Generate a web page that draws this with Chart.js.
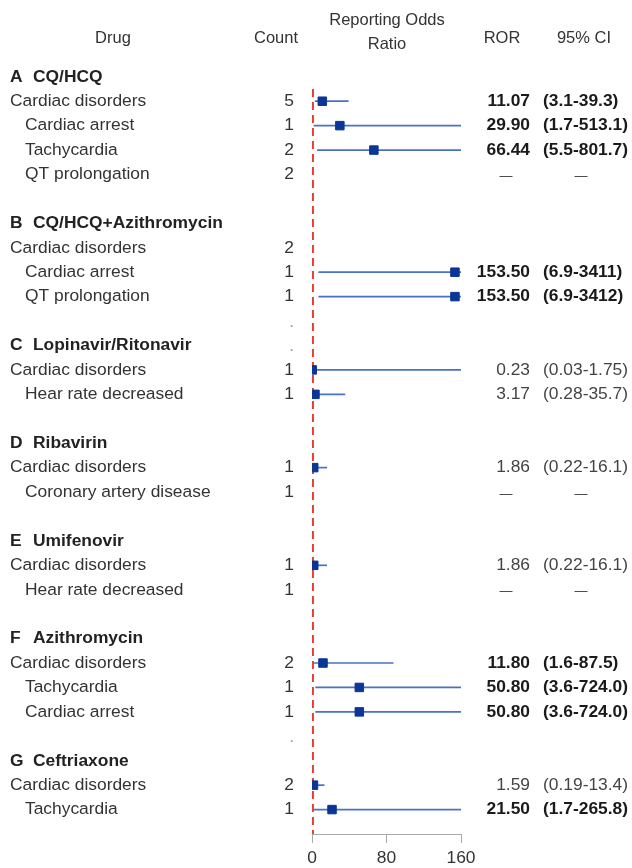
<!DOCTYPE html>
<html>
<head>
<meta charset="utf-8">
<script src="https://cdn.jsdelivr.net/npm/chart.js@4/dist/chart.umd.min.js"></script>
<style>
  body { margin: 0; background: #fff; }
  #wrap { width: 632px; height: 868px; }
</style>
</head>
<body>
<div id="wrap"><canvas id="forest" width="632" height="868"></canvas></div>
<script>
"use strict";

// one entry per row, top to bottom (row index = y value)
// kind: h = drug header, m = main row, s = sub row, b = blank
const rowKind = ['h','m','s','s','s','b','h','m','s','s','b','h','m','s','b','h','m','s','b','h','m','s','b','h','m','s','s','b','h','m','s'];
const headerLetters = { 0: 'A', 6: 'B', 11: 'C', 15: 'D', 19: 'E', 23: 'F', 28: 'G' };
const rowLabels = [
    'CQ/HCQ', 'Cardiac disorders', 'Cardiac arrest', 'Tachycardia', 'QT prolongation', '',
    'CQ/HCQ+Azithromycin', 'Cardiac disorders', 'Cardiac arrest', 'QT prolongation', '',
    'Lopinavir/Ritonavir', 'Cardiac disorders', 'Hear rate decreased', '',
    'Ribavirin', 'Cardiac disorders', 'Coronary artery disease', '',
    'Umifenovir', 'Cardiac disorders', 'Hear rate decreased', '',
    'Azithromycin', 'Cardiac disorders', 'Tachycardia', 'Cardiac arrest', '',
    'Ceftriaxone', 'Cardiac disorders', 'Tachycardia'
];
const counts = ['', '5', '1', '2', '2', '', '', '2', '1', '1', '.', '.', '1', '1', '', '', '1', '1', '', '', '1', '1', '', '', '2', '1', '1', '.', '', '2', '1'];

// point estimate and interval ends as drawn
const ror    = [null, 11.07, 29.90, 66.44, null, null, null, null, 153.5, 153.5, null, null, 0.23, 3.17, null, null, 1.86, null, null, null, 1.86, null, null, null, 11.80, 50.80, 50.80, null, null, 1.59, 21.50];
const ciLow  = [null, 3.1, 1.7, 5.5, null, null, null, null, 6.9, 6.9, null, null, 0.03, 0.28, null, null, 0.22, null, null, null, 0.22, null, null, null, 1.6, 3.6, 3.6, null, null, 0.19, 1.7];
const ciHigh = [null, 39.3, 513.1, 801.7, null, null, null, null, 3411, 3412, null, null, 160, 35.7, null, null, 16.1, null, null, null, 16.1, null, null, null, 87.5, 724.0, 724.0, null, null, 13.4, 265.8];

const rorText = ['', '11.07', '29.90', '66.44', '\u2014', '', '', '', '153.50', '153.50', '', '', '0.23', '3.17', '', '', '1.86', '\u2014', '', '', '1.86', '\u2014', '', '', '11.80', '50.80', '50.80', '', '', '1.59', '21.50'];
const ciText  = ['', '(3.1-39.3)', '(1.7-513.1)', '(5.5-801.7)', '\u2014', '', '', '', '(6.9-3411)', '(6.9-3412)', '', '', '(0.03-1.75)', '(0.28-35.7)', '', '', '(0.22-16.1)', '\u2014', '', '', '(0.22-16.1)', '\u2014', '', '', '(1.6-87.5)', '(3.6-724.0)', '(3.6-724.0)', '', '', '(0.19-13.4)', '(1.7-265.8)'];
const boldRows = [1, 2, 3, 8, 9, 24, 25, 26, 30];

const xTicks = [0, 80, 160];
const refValue = 1;

const FONT = '"Liberation Sans", Arial, sans-serif';

var pointData = [];
var ciSets = [];
ror.forEach(function (v, i) {
    if (v === null) return;
    pointData.push({ x: v, y: i });
    ciSets.push({
        data: [{ x: ciLow[i], y: i }, { x: ciHigh[i], y: i }],
        showLine: true,
        borderColor: '#4a72c4',
        borderWidth: 1.7,
        pointRadius: 0
    });
});

const textColumns = {
    id: 'textColumns',
    afterDraw: function (chart) {
        const ctx = chart.ctx;
        const y = chart.scales.y;
        ctx.save();
        ctx.textBaseline = 'middle';

        // column headers
        ctx.fillStyle = '#333';
        ctx.font = '16.5px ' + FONT;
        ctx.textAlign = 'center';
        ctx.fillText('Drug', 113, 38);
        ctx.fillText('Count', 276, 38);
        ctx.fillText('Reporting Odds', 387, 20);
        ctx.fillText('Ratio', 387, 44);
        ctx.fillText('ROR', 502, 38);
        ctx.fillText('95% CI', 584, 38);

        rowKind.forEach(function (kind, i) {
            const py = y.getPixelForValue(i);
            ctx.textAlign = 'left';
            if (kind === 'h') {
                ctx.font = 'bold 17.4px ' + FONT;
                ctx.fillStyle = '#222';
                ctx.fillText(headerLetters[i], 10, py);
                ctx.fillText(rowLabels[i], 33, py);
            } else if (kind === 'm' || kind === 's') {
                ctx.font = '17.4px ' + FONT;
                ctx.fillStyle = '#333';
                ctx.fillText(rowLabels[i], kind === 'm' ? 10 : 25, py);
            }

            if (counts[i]) {
                ctx.textAlign = 'right';
                ctx.font = '17.4px ' + FONT;
                ctx.fillStyle = counts[i] === '.' ? '#999' : '#333';
                if (counts[i] === '.') {
                    ctx.textBaseline = 'alphabetic';
                    ctx.fillText('.', 294, py + 6);
                    ctx.textBaseline = 'middle';
                } else {
                    ctx.fillText(counts[i], 294, py);
                }
            }

            if (rorText[i] === '\u2014') {
                ctx.textAlign = 'center';
                ctx.font = '13px ' + FONT;
                ctx.fillStyle = '#333';
                ctx.fillText('\u2014', 506, py + 2);
                ctx.fillText('\u2014', 581, py + 2);
            } else if (rorText[i]) {
                const bold = boldRows.indexOf(i) >= 0;
                ctx.font = (bold ? 'bold ' : '') + '17.4px ' + FONT;
                ctx.fillStyle = bold ? '#1a1a1a' : '#444';
                ctx.textAlign = 'right';
                ctx.fillText(rorText[i], 530, py);
                ctx.textAlign = 'left';
                ctx.fillText(ciText[i], 543, py);
            }
        });
        ctx.restore();
    }
};

const ctx = document.getElementById('forest').getContext('2d');
const forest = new Chart(ctx, {
    type: 'scatter',
    data: {
        datasets: [{
            data: pointData,
            pointStyle: 'rect',
            pointRadius: 6,
            borderWidth: 1,
            backgroundColor: '#0b3596',
            borderColor: '#0b3596'
        }].concat(ciSets).concat([{
            data: [{ x: refValue, y: 0.5 }, { x: refValue, y: 31 }],
            showLine: true,
            borderColor: '#ee3b32',
            borderWidth: 2,
            borderDash: [8, 5],
            pointRadius: 0
        }])
    },
    options: {
        responsive: false,
        animation: false,
        events: [],
        layout: {
            padding: { left: 312, right: 171, top: 89, bottom: 0 }
        },
        plugins: {
            legend: { display: false },
            tooltip: { enabled: false }
        },
        scales: {
            x: {
                type: 'linear',
                min: xTicks[0],
                max: xTicks[xTicks.length - 1],
                afterBuildTicks: function (axis) {
                    axis.ticks = xTicks.map(function (v) { return { value: v }; });
                },
                afterFit: function (axis) {
                    axis.height = 34;
                },
                ticks: {
                    color: '#333',
                    font: { size: 17.4, family: FONT },
                    padding: 5,
                    maxRotation: 0
                },
                grid: {
                    drawOnChartArea: false,
                    drawTicks: true,
                    tickLength: 9,
                    color: '#aaa'
                },
                border: { display: true, color: '#aaa', width: 1 }
            },
            y: {
                type: 'linear',
                reverse: true,
                min: 0.5,
                max: 31,
                display: false
            }
        }
    },
    plugins: [textColumns]
});
</script>
</body>
</html>
